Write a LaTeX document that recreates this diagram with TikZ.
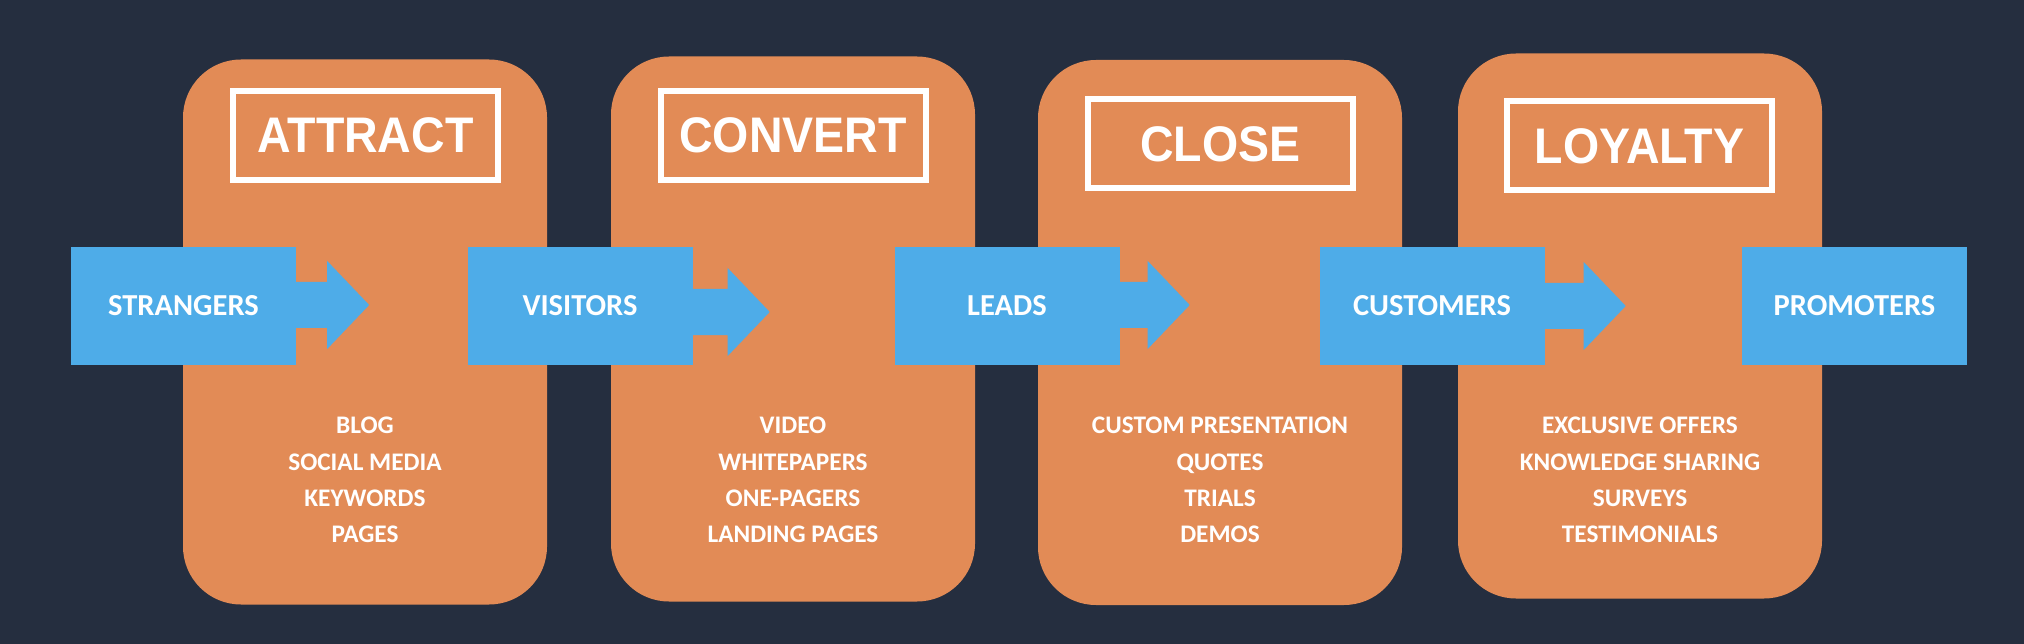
\documentclass[tikz,border=0pt]{standalone}
\usepackage{fontspec}
\setmainfont{Carlito}
\newfontfamily\headfam[FakeStretch=0.93]{Liberation Sans}
\definecolor{bgnavy}{HTML}{252E3F}
\definecolor{stageorange}{HTML}{E28B56}
\definecolor{bandblue}{HTML}{4EACE8}
\tikzset{
  stagebox/.style={fill=stageorange, rounded corners=58pt, minimum width=364pt, minimum height=545pt, inner sep=0pt},
  titlebox/.style={draw=white, line width=6pt, minimum width=265pt, minimum height=89pt, inner sep=0pt,
    text=white, font=\headfam\bfseries\fontsize{50}{60}\selectfont},
  bandbox/.style={fill=bandblue, minimum width=225pt, minimum height=118pt, inner sep=0pt,
    text=white, font=\bfseries\fontsize{30.5}{36}\selectfont},
  itemlist/.style={text=white, align=center, font=\bfseries\fontsize{25.3}{36.3}\selectfont},
}
\begin{document}
\begin{tikzpicture}[x=1pt, y=-1pt]
  \fill[bgnavy] (0,0) rectangle (2024,644);
  \useasboundingbox (0,0) rectangle (2024,644);
  % stages
  \node[stagebox] (attract) at (365,332) {};
  \node[stagebox] (convert) at (793,329) {};
  \node[stagebox] (close) at (1220,332.5) {};
  \node[stagebox] (loyalty) at (1640,326) {};
  % titles
  \node[titlebox] (attractT) at (365.5,135.5) {ATTRACT};
  \node[titlebox] (convertT) at (793,135.5) {CONVERT};
  \node[titlebox] (closeT) at (1220.5,144) {CLOSE};
  \node[titlebox] (loyaltyT) at (1639.5,146) {LOYALTY};
  % tools
  \node[itemlist] (attractL) at (365,480) {BLOG\\SOCIAL MEDIA\\KEYWORDS\\PAGES};
  \node[itemlist] (convertL) at (793,480) {VIDEO\\WHITEPAPERS\\ONE-PAGERS\\LANDING PAGES};
  \node[itemlist] (closeL) at (1220,480) {CUSTOM PRESENTATION\\QUOTES\\TRIALS\\DEMOS};
  \node[itemlist] (loyaltyL) at (1640,480) {EXCLUSIVE OFFERS\\KNOWLEDGE SHARING\\SURVEYS\\TESTIMONIALS};
  % people
  \node[bandbox] (strangers) at (183.5,306) {STRANGERS};
  \node[bandbox] (visitors) at (580,306) {VISITORS};
  \node[bandbox] (leads) at (1007,306) {LEADS};
  \node[bandbox] (customers) at (1432,306) {CUSTOMERS};
  \node[bandbox] (promoters) at (1854.5,306) {PROMOTERS};
  % block arrows
  \foreach \n/\s/\dy in {strangers/31/-1, visitors/35/6, leads/28/-1, customers/39/0}
    \fill[bandblue] ([xshift=-1pt]\n.east) ++(0,\dy-23) -- ++(\s+1,0) -- ++(0,-21)
      -- ++(42,44) -- ++(-42,44) -- ++(0,-21) -- ++(-\s-1,0) -- cycle;
\end{tikzpicture}
\end{document}
